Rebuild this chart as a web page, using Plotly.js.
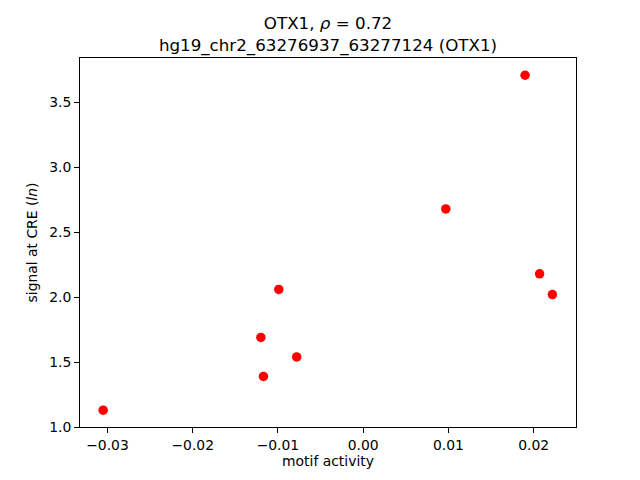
<!DOCTYPE html>
<html>
<head>
<meta charset="utf-8">
<script src="https://cdn.plot.ly/plotly-3.0.1.min.js"></script>
<style>html,body{margin:0;padding:0;background:#fff;}#chart{width:640px;height:480px;}</style>
</head>
<body>
<div id="chart"></div>
<script>
const motifActivity = [-0.0305, -0.0120, -0.0117, -0.0099, -0.0078, 0.0097, 0.0190, 0.0207, 0.0222];
const signalAtCRE = [1.13, 1.69, 1.39, 2.06, 1.54, 2.68, 3.71, 2.18, 2.02];
const xTicks = [-0.03, -0.02, -0.01, 0.00, 0.01, 0.02];
const yTicks = [1.0, 1.5, 2.0, 2.5, 3.0, 3.5];

const font = "DejaVu Sans, sans-serif";
const trace = {
  x: motifActivity, y: signalAtCRE, type: 'scatter', mode: 'markers',
  marker: {color: '#ff0000', size: 9.5, line: {width: 0}},
  hoverinfo: 'skip'
};
const axisCommon = {
  showline: true, linecolor: '#000', linewidth: 1, mirror: true,
  ticks: 'outside', ticklen: 5, tickwidth: 1, tickcolor: '#000',
  showgrid: false, zeroline: false,
  tickfont: {family: font, size: 13.9, color: '#000'}
};
const layout = {
  width: 640, height: 480,
  margin: {l: 80, r: 64, t: 57.6, b: 52.8},
  paper_bgcolor: '#fff', plot_bgcolor: '#fff',
  showlegend: false,
  title: {
    text: 'OTX1, <i>ρ</i> = 0.72<br>hg19_chr2_63276937_63277124 (OTX1)',
    font: {family: font, size: 16.7, color: '#000'},
    x: 0.5, xref: 'paper', xanchor: 'center',
    y: 0.94, yref: 'container', yanchor: 'top'
  },
  xaxis: Object.assign({}, axisCommon, {
    range: [-0.03322, 0.02497], tickvals: xTicks, tickformat: '.2f',
    title: {text: 'motif activity', font: {family: font, size: 13.9, color: '#000'}, standoff: 4}
  }),
  yaxis: Object.assign({}, axisCommon, {
    range: [1.0, 3.843], tickvals: yTicks, tickformat: '.1f',
    title: {text: 'signal at CRE (<i>ln</i>)', font: {family: font, size: 13.9, color: '#000'}, standoff: 8}
  })
};
Plotly.newPlot('chart', [trace], layout, {staticPlot: true, displayModeBar: false});
</script>
</body>
</html>
